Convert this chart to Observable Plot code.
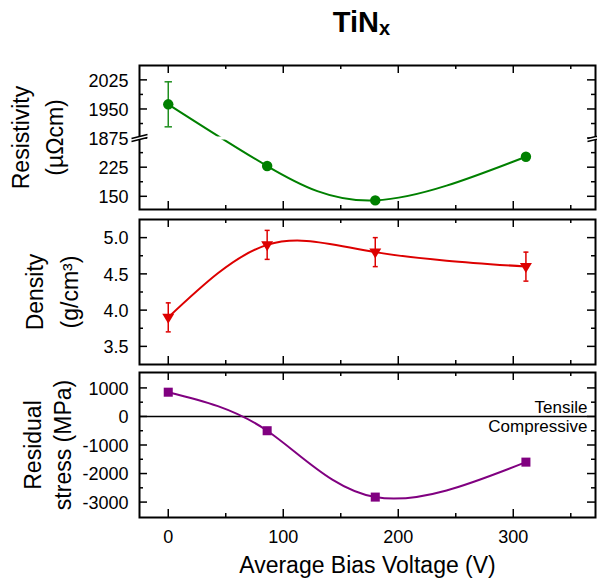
<!DOCTYPE html>
<html><head><meta charset="utf-8">
<script src="https://cdn.jsdelivr.net/npm/d3@7"></script>
<script src="https://cdn.jsdelivr.net/npm/@observablehq/plot@0.6"></script>
<style>
html,body{margin:0;padding:0;background:#fff;}
body{width:597px;height:581px;overflow:hidden;position:relative;font-family:"Liberation Sans",Arial,sans-serif;}
.panel{position:absolute;left:0;line-height:0;}
.panel svg{display:block;}
#title{position:absolute;left:126px;width:471px;top:8px;text-align:center;font-weight:bold;font-size:29px;line-height:29px;color:#000;}
#title span{font-size:20px;position:relative;top:3px;}
</style></head><body>
<div id="title">TiN<span>x</span></div>
<div class="panel" id="p1" style="top:58px"></div>
<div class="panel" id="p2" style="top:214px"></div>
<div class="panel" id="p3" style="top:368px"></div>
<script>
// ---- data ----
const voltage = [0, 86, 180, 311];
const resistivity = [1962, 228, 139.5, 252];
const resistivityErr = [58, 0, 0, 0];
const density = [3.9, 4.9, 4.8, 4.6];
const densityErr = [0.2, 0.2, 0.2, 0.2];
const stress = [850, -500, -2825, -1600];

const xTicks = [0, 100, 200, 300];
const xMinorTicks = [50, 150, 250, 350];
const resTicks = [150, 225, 1875, 1950, 2025];
const resMinorTicks = [187.5, 262.5, 1912.5, 1987.5];
const resBreak = [300, 1875]; // top of lower segment, bottom of upper segment
const densTicks = [3.5, 4.0, 4.5, 5.0];
const densMinorTicks = [3.75, 4.25, 4.75];
const stressTicks = [-3000, -2000, -1000, 0, 1000];
const stressMinorTicks = [-2500, -1500, -500, 500];
const stressZero = [0];
const stressNotes = ["Tensile", "Compressive"];

// ---- helpers ----
const GREEN = "#008000", GREEN_ERR = "#1f8f1f";
const RED = "#dd0000";
const PURPLE = "#800080";
const FW = 456; // frame width
const gap = resBreak[1] - resBreak[0];
const seg = v => v >= resBreak[1] ? v - gap : v;
const unseg = v => v >= resBreak[0] ? v + gap : v;
const idx = voltage.map((_, i) => i);
const style = {fontFamily: "Liberation Sans, Arial, sans-serif", fontSize: "18px", background: "white", color: "black", overflow: "visible"};
const common = {width: 597, marginLeft: 139, marginRight: 2, style};
const xScale = {domain: [-25, 371.5]};
const TICKFS = 18;

const capSymbol = w => ({draw(c){ c.moveTo(-w, 0); c.lineTo(w, 0); }});
const triDown = {draw(c){ c.moveTo(-6, -3.7); c.lineTo(6, -3.7); c.lineTo(0, 6.3); c.closePath(); }};
const breakFill = {draw(c){ c.moveTo(-8, 0.5); c.lineTo(8, -3.5); c.lineTo(8, -0.5); c.lineTo(-8, 3.5); c.closePath(); }};
const breakLines = {draw(c){ c.moveTo(-8, 0.5); c.lineTo(8, -3.5); c.moveTo(-8, 3.5); c.lineTo(8, -0.5); }};

function tickMarks(yMajor, yMinor, yf, FH) {
  const s = {stroke: "black", strokeWidth: 1.5};
  return [
    Plot.tickX(xTicks, {x: d => d, insetTop: FH - 8, ...s}),
    Plot.tickX(xTicks, {x: d => d, insetBottom: FH - 8, ...s}),
    Plot.tickX(xMinorTicks, {x: d => d, insetTop: FH - 4, ...s}),
    Plot.tickX(xMinorTicks, {x: d => d, insetBottom: FH - 4, ...s}),
    Plot.tickY(yMajor, {y: yf, insetRight: FW - 8, ...s}),
    Plot.tickY(yMajor, {y: yf, insetLeft: FW - 8, ...s}),
    Plot.tickY(yMinor, {y: yf, insetRight: FW - 4, ...s}),
    Plot.tickY(yMinor, {y: yf, insetLeft: FW - 4, ...s})
  ];
}
function yTitle(lines, dxs) {
  return lines.map((t, i) => Plot.text([t], {text: d => d, frameAnchor: "left", textAnchor: "middle", lineAnchor: "middle", rotate: -90, dx: dxs[i], fontSize: 23, fill: "black"}));
}

// ---- panel 1: resistivity (broken axis) ----
const errIdx = idx.filter(i => resistivityErr[i] > 0);
const p1 = Plot.plot({
  ...common, height: 156, marginTop: 7, marginBottom: 5,
  x: {...xScale, axis: null},
  y: {domain: [116, 487], axis: null},
  marks: [
    Plot.line(idx, {x: i => voltage[i], y: i => seg(resistivity[i]), curve: "natural", stroke: GREEN, strokeWidth: 2}),
    Plot.ruleY([resBreak[0]], {y: d => d, stroke: "white", strokeWidth: 3, insetLeft: 3, insetRight: 3}),
    Plot.ruleX(errIdx, {x: i => voltage[i], y1: i => seg(resistivity[i] - resistivityErr[i]), y2: i => seg(resistivity[i] + resistivityErr[i]), stroke: GREEN_ERR, strokeWidth: 1.5}),
    Plot.dot(errIdx, {x: i => voltage[i], y: i => seg(resistivity[i] - resistivityErr[i]), symbol: capSymbol(3.7), stroke: GREEN_ERR, fill: "none", strokeWidth: 1.5}),
    Plot.dot(errIdx, {x: i => voltage[i], y: i => seg(resistivity[i] + resistivityErr[i]), symbol: capSymbol(3.7), stroke: GREEN_ERR, fill: "none", strokeWidth: 1.5}),
    Plot.dot(idx, {x: i => voltage[i], y: i => seg(resistivity[i]), r: 5.2, fill: GREEN, stroke: "none"}),
    ...tickMarks(resTicks, resMinorTicks, d => seg(d), 144),
    Plot.frame({stroke: "black", strokeWidth: 2}),
    Plot.axisY(resTicks.map(seg), {tickSize: 0, tickPadding: 11, fontSize: TICKFS, dy: 1, label: null, tickFormat: d => String(unseg(d))}),
    Plot.dot([resBreak[0]], {y: d => d, frameAnchor: "left", symbol: breakFill, fill: "white", stroke: "none"}),
    Plot.dot([resBreak[0]], {y: d => d, frameAnchor: "left", symbol: breakLines, fill: "none", stroke: "black", strokeWidth: 1.6}),
    Plot.dot([resBreak[0]], {y: d => d, frameAnchor: "right", symbol: breakFill, fill: "white", stroke: "none"}),
    Plot.dot([resBreak[0]], {y: d => d, frameAnchor: "right", symbol: breakLines, fill: "none", stroke: "black", strokeWidth: 1.6}),
    ...yTitle(["Resistivity", "(\u00b5\u03a9cm)"], [-118, -84])
  ]
});
document.getElementById("p1").appendChild(p1);

// ---- panel 2: density ----
const p2 = Plot.plot({
  ...common, height: 154, marginTop: 5, marginBottom: 4,
  x: {...xScale, axis: null},
  y: {domain: [3.25, 5.25], axis: null},
  marks: [
    Plot.line(idx, {x: i => voltage[i], y: i => density[i], curve: "natural", stroke: RED, strokeWidth: 2}),
    Plot.ruleX(idx, {x: i => voltage[i], y1: i => density[i] - densityErr[i], y2: i => density[i] + densityErr[i], stroke: RED, strokeWidth: 1.5}),
    Plot.dot(idx, {x: i => voltage[i], y: i => density[i] - densityErr[i], symbol: capSymbol(2.5), stroke: RED, fill: "none", strokeWidth: 1.5}),
    Plot.dot(idx, {x: i => voltage[i], y: i => density[i] + densityErr[i], symbol: capSymbol(2.5), stroke: RED, fill: "none", strokeWidth: 1.5}),
    Plot.dot(idx, {x: i => voltage[i], y: i => density[i], symbol: triDown, fill: RED, stroke: "none"}),
    ...tickMarks(densTicks, densMinorTicks, d => d, 145),
    Plot.frame({stroke: "black", strokeWidth: 2}),
    Plot.axisY(densTicks, {tickSize: 0, tickPadding: 11, fontSize: TICKFS, dy: 1, label: null, tickFormat: d => d.toFixed(1)}),
    ...yTitle(["Density", "(g/cm\u00b3)"], [-104, -69])
  ]
});
document.getElementById("p2").appendChild(p2);

// ---- panel 3: residual stress ----
const p3 = Plot.plot({
  ...common, height: 213, marginTop: 4, marginBottom: 64,
  x: {...xScale},
  y: {domain: [-3540, 1540], axis: null},
  marks: [
    Plot.ruleY(stressZero, {y: d => d, stroke: "black", strokeWidth: 1.5}),
    Plot.line(idx, {x: i => voltage[i], y: i => stress[i], curve: "natural", stroke: PURPLE, strokeWidth: 2}),
    Plot.dot(idx, {x: i => voltage[i], y: i => stress[i], symbol: "square", r: 5.1, fill: PURPLE, stroke: "none"}),
    Plot.text([stressNotes[0]], {text: d => d, y: () => stressZero[0], frameAnchor: "right", textAnchor: "end", lineAnchor: "middle", dx: -8, dy: -8.7, fontSize: 17, fill: "black"}),
    Plot.text([stressNotes[1]], {text: d => d, y: () => stressZero[0], frameAnchor: "right", textAnchor: "end", lineAnchor: "middle", dx: -8, dy: 10.3, fontSize: 17, fill: "black"}),
    ...tickMarks(stressTicks, stressMinorTicks, d => d, 145),
    Plot.frame({stroke: "black", strokeWidth: 2}),
    Plot.axisY(stressTicks, {tickSize: 0, tickPadding: 11, fontSize: TICKFS, dy: 1, label: null, tickFormat: d => String(d)}),
    Plot.axisX(xTicks, {tickSize: 0, tickPadding: 13, fontSize: TICKFS, label: null, tickFormat: d => String(d)}),
    Plot.text(["Average Bias Voltage (V)"], {text: d => d, frameAnchor: "bottom", textAnchor: "middle", lineAnchor: "middle", dy: 48, fontSize: 23, fill: "black"}),
    ...yTitle(["Residual", "stress (MPa)"], [-106, -76])
  ]
});
document.getElementById("p3").appendChild(p3);
</script>
</body></html>
